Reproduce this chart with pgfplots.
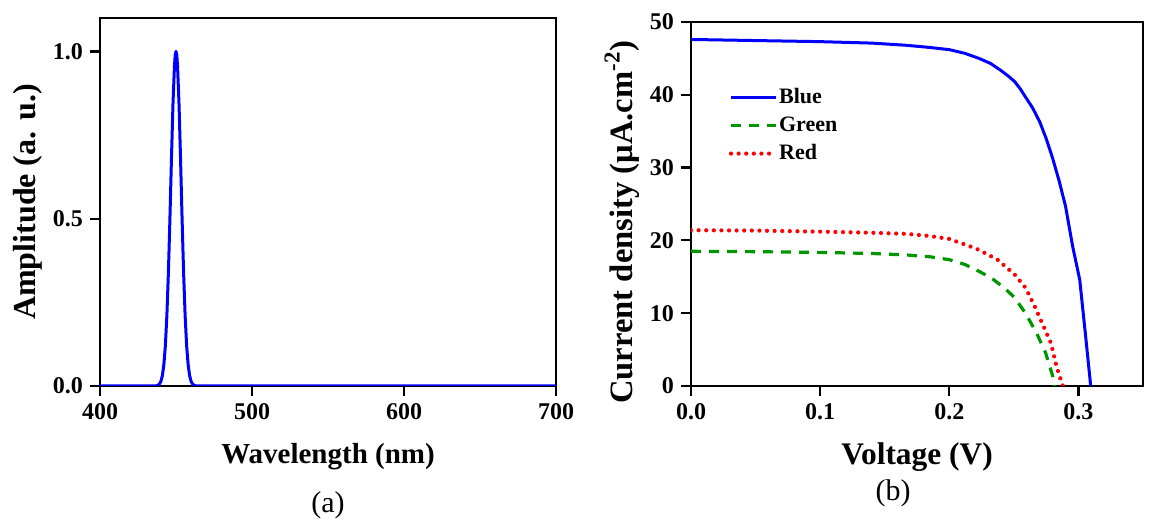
\documentclass[border=0pt]{standalone}
\usepackage{pgfplots}
\pgfplotsset{compat=1.18}
\usepackage{fontspec}
\setmainfont{Liberation Serif}
\definecolor{mygreen}{RGB}{0,150,0}
\begin{document}
\begin{tikzpicture}
\useasboundingbox (-50pt,-68.5pt) rectangle (524.5pt,193pt);
\pgfplotsset{
  myaxis/.style={
    scale only axis,
    clip mode=individual,
    axis line style={line width=0.8pt, black},
    tick align=outside,
    tickpos=left,
    major tick length=5pt,
    major tick style={line width=1.1pt, draw=black},
    /pgf/number format/assume math mode=true,
    tick label style={font=\fontsize{12}{14}\selectfont\bfseries},
    label style={font=\fontsize{14.5}{17}\selectfont\bfseries},
  }
}
\begin{axis}[myaxis,
  at={(0pt,0pt)}, anchor=south west,
  width=228pt, height=184pt,
  xmin=400, xmax=700, ymin=0, ymax=1.1,
  xtick={400,500,600,700},
  ytick={0,0.5,1.0},
  yticklabel style={/pgf/number format/.cd,fixed,fixed zerofill,precision=1},
  xlabel={Wavelength (nm)},
  ylabel={Amplitude (a. u.)},
  xlabel style={at={(axis description cs:0.5,-0.193)}, anchor=center},
  ylabel style={at={(axis description cs:-0.158,0.5)}, anchor=center, font=\fontsize{16}{19}\selectfont\bfseries},
]
\addplot[blue, line width=1.5pt, line join=round] coordinates {
(400,0) (430,0) (436,0) (437,0.0007) (438,0.002) (439,0.0053) (440,0.013) (441,0.030) (442,0.063) (443,0.120) (444,0.211) (445,0.339) (446,0.500) (447,0.677) (448,0.841) (449,0.958) (449.5,0.99) (450,1.0)
(450.5,0.99) (451,0.958) (452,0.841) (453,0.677) (454,0.500) (455,0.339) (456,0.211) (457,0.120) (458,0.063) (459,0.030) (460,0.013) (461,0.0053) (462,0.002) (463,0.0007) (464,0) (470,0) (700,0)
};
\node[font=\fontsize{15}{18}\selectfont] at (axis description cs:0.5,-0.323) {(a)};
\end{axis}
\begin{axis}[myaxis,
  at={(295.5pt,0pt)}, anchor=south west,
  width=226pt, height=182pt,
  xmin=0, xmax=0.35, ymin=0, ymax=50,
  xtick={0,0.1,0.2,0.3},
  ytick={0,10,20,30,40,50},
  xticklabel style={/pgf/number format/.cd,fixed,fixed zerofill,precision=1},
  xlabel={Voltage (V)},
  ylabel={Current density (μA.cm\textsuperscript{-2})},
  xlabel style={at={(axis description cs:0.5,-0.195)}, anchor=center, font=\fontsize{15.7}{19}\selectfont\bfseries},
  ylabel style={at={(axis description cs:-0.153,0.45)}, anchor=center, font=\fontsize{16.3}{19}\selectfont\bfseries},
  legend style={at={(axis description cs:0.083,0.84)}, anchor=north west, draw=none, fill=none,
    font=\fontsize{11}{13}\selectfont\bfseries, row sep=1pt,
    inner xsep=0pt,
    /tikz/every odd column/.append style={column sep=0pt},
    nodes={inner xsep=0.5pt}},
  legend cell align=left,
  legend image code/.code={\draw[#1] (0pt,0pt) -- (22.5pt,0pt);},
]
\addplot[blue, line width=1.5pt, line join=round] coordinates {
(0,47.6) (0.05,47.45) (0.1,47.3) (0.14,47.1) (0.1667,46.8) (0.185,46.5) (0.2,46.2) (0.212,45.7) (0.223,45.0) (0.232,44.3) (0.2395,43.4) (0.2455,42.6) (0.2507,41.8) (0.255,40.8) (0.259,39.7) (0.2645,38.2) (0.270,36.3) (0.275,34.0) (0.280,31.3) (0.285,28.2) (0.290,24.7) (0.2955,19.2) (0.301,14.6) (0.3053,7.3) (0.3095,0)
};
\addlegendentry{Blue}
\addplot[mygreen, line width=1.6pt, dash pattern=on 5pt off 4pt] coordinates {
(0,18.5) (0.05,18.45) (0.1,18.35) (0.14,18.2) (0.1667,18.0) (0.185,17.75) (0.2,17.35) (0.212,16.7) (0.223,15.75) (0.232,14.9) (0.2395,13.9) (0.2455,13.0) (0.2507,12.1) (0.259,10.0) (0.2675,7.3) (0.2745,4.6) (0.280,1.4) (0.2815,0)
};
\addlegendentry{Green}
\addplot[red, line width=2.1pt, line cap=round, dash pattern=on 0pt off 3.8pt] coordinates {
(0,21.4) (0.05,21.35) (0.1,21.2) (0.14,21.05) (0.1667,20.9) (0.185,20.6) (0.2,20.2) (0.2205,18.9) (0.237,17.4) (0.2507,15.3) (0.259,13.5) (0.266,11.0) (0.2717,8.7) (0.2787,5.9) (0.283,2.7) (0.287,0.5) (0.288,0)
};
\addlegendentry{Red}
\node[font=\fontsize{15}{18}\selectfont] at (axis description cs:0.447,-0.294) {(b)};
\end{axis}
\end{tikzpicture}
\end{document}
